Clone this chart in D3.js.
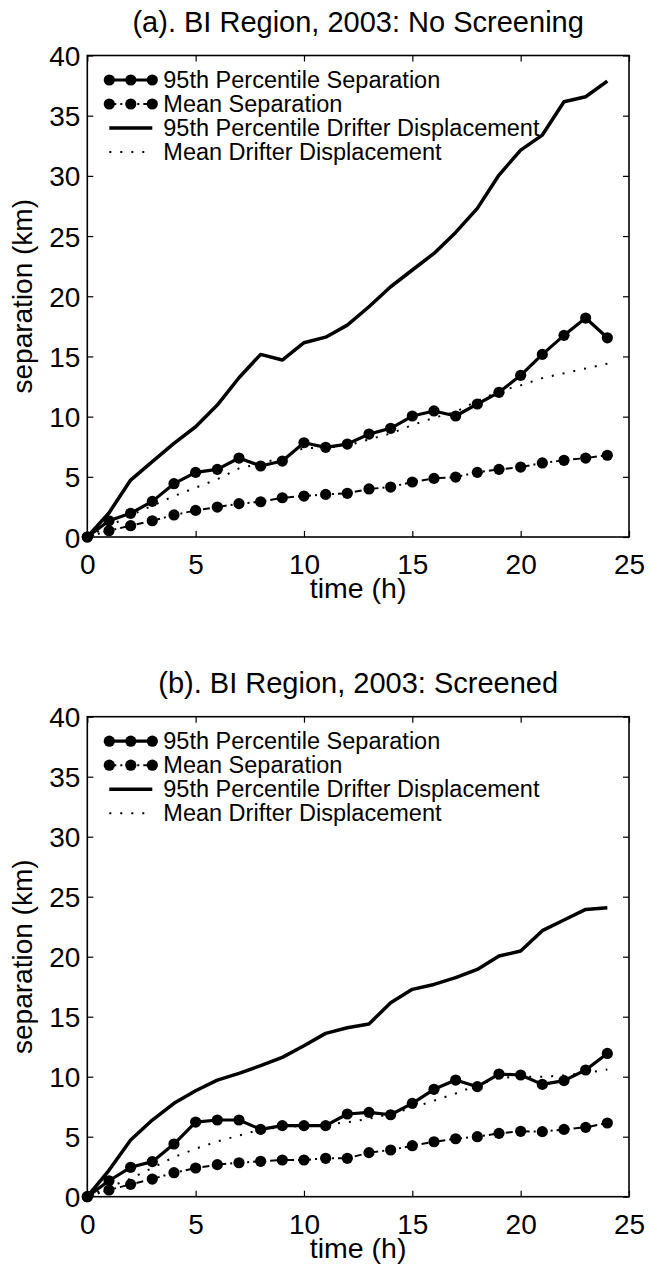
<!DOCTYPE html>
<html>
<head>
<meta charset="utf-8">
<script src="https://cdn.jsdelivr.net/npm/d3@7"></script>
<style>
    body { margin: 0; background: #fff; }
    svg { display: block; }
    text { font-family: "Liberation Sans", Arial, Helvetica, sans-serif; fill: #000; }
</style>
</head>
<body>
<div id="chart"></div>
<script>
// hours since release
const hours = [0, 1, 2, 3, 4, 5, 6, 7, 8, 9, 10, 11, 12, 13, 14, 15, 16, 17, 18, 19, 20, 21, 22, 23, 24];
const xTicks = [0, 5, 10, 15, 20, 25];
const yTicks = [0, 5, 10, 15, 20, 25, 30, 35, 40];

const seriesNames = [
    '95th Percentile Separation',
    'Mean Separation',
    '95th Percentile Drifter Displacement',
    'Mean Drifter Displacement'
];

// (a) no screening, km
const p95SepA = [0, 1.35, 1.97, 2.96, 4.43, 5.37, 5.62, 6.56, 5.9, 6.31, 7.83, 7.45, 7.72, 8.55, 9.03, 10.05, 10.47, 10.05, 11.05, 12.02, 13.43, 15.17, 16.75, 18.19, 16.55];
const meanSepA = [0, 0.52, 0.94, 1.35, 1.83, 2.21, 2.49, 2.77, 2.93, 3.26, 3.4, 3.54, 3.63, 3.99, 4.15, 4.57, 4.87, 4.98, 5.37, 5.62, 5.81, 6.15, 6.37, 6.56, 6.79];
const p95DispA = [0, 2.0, 4.73, 6.26, 7.78, 9.16, 10.96, 13.23, 15.17, 14.7, 16.14, 16.6, 17.6, 19.13, 20.79, 22.18, 23.56, 25.3, 27.3, 30.07, 32.14, 33.39, 36.16, 36.57, 37.87];
const meanDispA = [0, 0.9, 1.8, 2.6, 3.4, 4.1, 4.8, 5.7, 6.1, 6.6, 7.4, 7.4, 7.6, 8.1, 8.6, 9.3, 9.9, 10.4, 11.3, 12.1, 12.6, 13.2, 13.6, 14.0, 14.4];

// (b) screened, km
const p95SepB = [0, 1.33, 2.45, 2.92, 4.39, 6.22, 6.39, 6.39, 5.61, 5.92, 5.92, 5.92, 6.89, 7.03, 6.83, 7.78, 8.95, 9.72, 9.17, 10.22, 10.14, 9.36, 9.67, 10.56, 11.94];
const meanSepB = [0, 0.56, 1.03, 1.47, 2.0, 2.39, 2.67, 2.83, 2.95, 3.06, 3.06, 3.2, 3.2, 3.67, 3.89, 4.25, 4.58, 4.83, 5.0, 5.28, 5.45, 5.42, 5.61, 5.78, 6.14];
const p95DispB = [0, 2.2, 4.72, 6.39, 7.78, 8.83, 9.72, 10.28, 10.92, 11.61, 12.58, 13.61, 14.08, 14.39, 16.17, 17.28, 17.69, 18.25, 18.94, 20.06, 20.47, 22.17, 23.06, 23.94, 24.08];
const meanDispB = [0, 0.8, 1.5, 2.4, 3.3, 4.0, 4.6, 5.1, 5.6, 5.8, 5.9, 6.0, 6.2, 6.5, 6.9, 7.4, 8.0, 8.6, 9.3, 9.9, 10.0, 10.0, 10.1, 10.3, 10.6];

// line styles, in series order
const styles = [
    { width: 3.2, dash: null, marker: true },
    { width: 2, dash: '7,4,2,4', marker: true },
    { width: 3.5, dash: null, marker: false },
    { width: 2, dash: '2,9', marker: false }
];

const FONT = '"Liberation Sans", Arial, Helvetica, sans-serif';
const W = 650, H = 1269;
const svg = d3.select('#chart').append('svg')
    .attr('width', W)
    .attr('height', H);

class SeparationPanel {
    constructor(parent, left, top, width, height, title, series) {
        this._width = width;
        this._height = height;
        this._g = parent.append('g')
            .attr('class', 'panel')
            .attr('transform', `translate(${left}, ${top})`);

        this._x = d3.scaleLinear().domain([0, 25]).range([0, width]);
        this._y = d3.scaleLinear().domain([0, 40]).range([height, 0]);

        this.drawAxes();
        this.drawSeries(series);
        this.drawLegend();

        this._g.append('text')
            .attr('x', width / 2)
            .attr('y', -23.5)
            .attr('text-anchor', 'middle')
            .style('font-size', '29px')
            .text(title);

        this._g.append('text')
            .attr('x', width / 2)
            .attr('y', height + 61)
            .attr('text-anchor', 'middle')
            .style('font-size', '28.5px')
            .text('time (h)');

        this._g.append('text')
            .attr('transform', `translate(${-55}, ${height / 2}) rotate(-90)`)
            .attr('text-anchor', 'middle')
            .style('font-size', '28px')
            .text('separation (km)');
    }

    drawAxes() {
        const tk = 6;
        const bottom = this._g.append('g')
            .attr('transform', `translate(0, ${this._height})`)
            .call(d3.axisBottom(this._x).tickValues(xTicks).tickSizeInner(-tk).tickSizeOuter(0).tickPadding(17));
        const top = this._g.append('g')
            .call(d3.axisTop(this._x).tickValues(xTicks).tickSizeInner(-tk).tickSizeOuter(0).tickFormat(''));
        const left = this._g.append('g')
            .call(d3.axisLeft(this._y).tickValues(yTicks).tickSizeInner(-tk).tickSizeOuter(0).tickPadding(7));
        const right = this._g.append('g')
            .attr('transform', `translate(${this._width}, 0)`)
            .call(d3.axisRight(this._y).tickValues(yTicks).tickSizeInner(-tk).tickSizeOuter(0).tickFormat(''));

        [bottom, top, left, right].forEach(a => {
            a.select('.domain').remove();
            a.selectAll('line').attr('stroke', '#000').attr('stroke-width', 1.2);
            a.selectAll('text')
                .style('font-size', '28px')
                .style('font-family', FONT)
                .attr('fill', '#000');
        });
        bottom.selectAll('text').attr('dy', '0.71em');
        left.selectAll('text').attr('dy', '0.36em');

        this._g.append('rect')
            .attr('width', this._width)
            .attr('height', this._height)
            .attr('fill', 'none')
            .attr('stroke', '#000')
            .attr('stroke-width', 1.6);
    }

    drawSeries(series) {
        const line = d3.line()
            .x((d, i) => this._x(hours[i]))
            .y(d => this._y(d));

        // reference curves first, separations on top
        [3, 2, 1, 0].forEach(k => {
            const st = styles[k];
            this._g.append('path')
                .datum(series[k])
                .attr('fill', 'none')
                .attr('stroke', '#000')
                .attr('stroke-width', st.width)
                .attr('stroke-dasharray', st.dash)
                .attr('stroke-linejoin', 'round')
                .attr('d', line);
            if (st.marker) {
                this._g.append('g').selectAll('circle')
                    .data(series[k])
                    .join('circle')
                    .attr('cx', (d, i) => this._x(hours[i]))
                    .attr('cy', d => this._y(d))
                    .attr('r', 5.6)
                    .attr('fill', '#000');
            }
        });
    }

    drawLegend() {
        const lg = this._g.append('g').attr('class', 'legend');
        const x0 = 22, x1 = 65;
        seriesNames.forEach((name, k) => {
            const st = styles[k];
            const cy = 24.5 + k * 24;
            const row = lg.append('g').attr('transform', `translate(0, ${cy})`);
            row.append('line')
                .attr('x1', x0).attr('x2', k === 3 ? x1 - 6 : x1)
                .attr('stroke', '#000')
                .attr('stroke-width', st.width)
                .attr('stroke-dasharray', st.dash);
            if (st.marker) {
                row.selectAll('circle')
                    .data([x0, (x0 + x1) / 2, x1])
                    .join('circle')
                    .attr('cx', d => d)
                    .attr('r', 5.6)
                    .attr('fill', '#000');
            }
            row.append('text')
                .attr('x', 76)
                .attr('y', 8)
                .style('font-size', '23.5px')
                .text(name);
        });
    }
}

const plotLeft = 87.3, plotWidth = 541.7;

new SeparationPanel(svg, plotLeft, 55.5, plotWidth, 481.5,
    '(a). BI Region, 2003: No Screening',
    [p95SepA, meanSepA, p95DispA, meanDispA]);

new SeparationPanel(svg, plotLeft, 716.7, plotWidth, 480,
    '(b). BI Region, 2003: Screened',
    [p95SepB, meanSepB, p95DispB, meanDispB]);
</script>
</body>
</html>
